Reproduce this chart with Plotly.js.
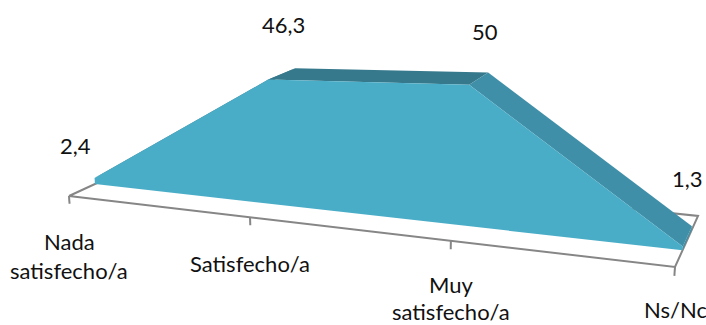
<!DOCTYPE html>
<html>
<head>
<meta charset="utf-8">
<script src="https://cdn.plot.ly/plotly-3.0.1.min.js"></script>
<style>html,body{margin:0;padding:0;background:#fff}#chart{width:706px;height:325px}</style>
</head>
<body>
<div id="chart"></div>
<script>
// Satisfaction survey, shown as a 3-D area chart
const categories = [["Nada", "satisfecho/a"], ["Satisfecho/a"], ["Muy", "satisfecho/a"], ["Ns/Nc"]];
const values = [2.4, 46.3, 50, 1.3];
const valueLabels = ["2,4", "46,3", "50", "1,3"];

const frontColor = "#4AADC8";
const stripColors = ["#37798C", "#37798C", "#3F8FA8"];
const floorColor = "#868686";
const textColor = "#111111";
const labelFont = "Lato, 'Noto Sans', sans-serif";

// Perspective camera: category c (0..3), value v, depth w (0 front, 1 back)
function project(c, v, w) {
  const s = c / 3;
  const d = 1 - 0.148 * s + 0.111 * w - 0.0006 * v;
  return [
    (69 + 506.1 * s + 97.1 * w - 0.222 * v) / d,
    (196 + 31.5 * s - 19.6 * w - 2.69 * v) / d
  ];
}

// Closed filled polygon through projected points
function face(points, color) {
  const xy = points.map(p => project(p[0], p[1], p[2]));
  return {
    type: "scatter", mode: "lines", fill: "toself", fillcolor: color,
    x: xy.map(p => p[0]).concat(xy[0][0]),
    y: xy.map(p => p[1]).concat(xy[0][1]),
    line: {width: 0, color: color}, hoverinfo: "skip", showlegend: false
  };
}

// Open polyline through projected points
function stroke(points) {
  const xy = points.map(p => project(p[0], p[1], p[2]));
  return {
    type: "scatter", mode: "lines",
    x: xy.map(p => p[0]), y: xy.map(p => p[1]),
    line: {width: 2, color: floorColor}, hoverinfo: "skip", showlegend: false
  };
}

const last = values.length - 1;
const zFront = 0.3, zBack = 0.7;
const traces = [];

// Floor outline and category tick marks
traces.push(stroke([[0, 0, 0], [last, 0, 0], [last, 0, 1], [0, 0, 1], [0, 0, 0]]));
values.forEach((_, i) => traces.push(stroke([[i, 0, 0], [i, -3, 0]])));

// Sloped upper faces, then the end cap, then the front of the area
values.slice(0, -1).forEach((v, i) => {
  traces.push(face([[i, v, zFront], [i + 1, values[i + 1], zFront],
                    [i + 1, values[i + 1], zBack], [i, v, zBack]], stripColors[i]));
});
traces.push(face([[last, 0, zFront], [last, values[last], zFront],
                  [last, values[last], zBack], [last, 0, zBack]], stripColors[2]));
traces.push(face(
  [[0, 0, zFront]].concat(values.map((v, i) => [i, v, zFront])).concat([[last, 0, zFront]]),
  frontColor
));

// Screen offsets of the text relative to the point it annotates
const valueOffsets = [[-19, -32], [15, -55], [16, -53], [5, -68]];
const catOffsets = [[0, 45, 29], [0, 46, 0], [0, 44, 27], [0, 42, 0]];

const annotations = [];
values.forEach((v, i) => {
  const top = project(i, v, zFront);
  annotations.push({
    x: top[0] + valueOffsets[i][0], y: top[1] + valueOffsets[i][1],
    text: valueLabels[i], showarrow: false, xanchor: "center", yanchor: "middle",
    font: {family: labelFont, size: 22, color: textColor}
  });
  const foot = project(i, 0, 0);
  const off = catOffsets[i];
  categories[i].forEach((line, k) => {
    annotations.push({
      x: foot[0] + off[0], y: foot[1] + off[1] + k * off[2],
      text: line, showarrow: false, xanchor: "center", yanchor: "middle",
      font: {family: labelFont, size: 22, color: textColor}
    });
  });
});

Plotly.newPlot("chart", traces, {
  width: 706, height: 325,
  margin: {l: 0, r: 0, t: 0, b: 0},
  paper_bgcolor: "#ffffff", plot_bgcolor: "#ffffff",
  showlegend: false,
  xaxis: {range: [0, 706], visible: false, fixedrange: true},
  yaxis: {range: [325, 0], visible: false, fixedrange: true},
  annotations: annotations
}, {displayModeBar: false, staticPlot: true});
</script>
</body>
</html>
